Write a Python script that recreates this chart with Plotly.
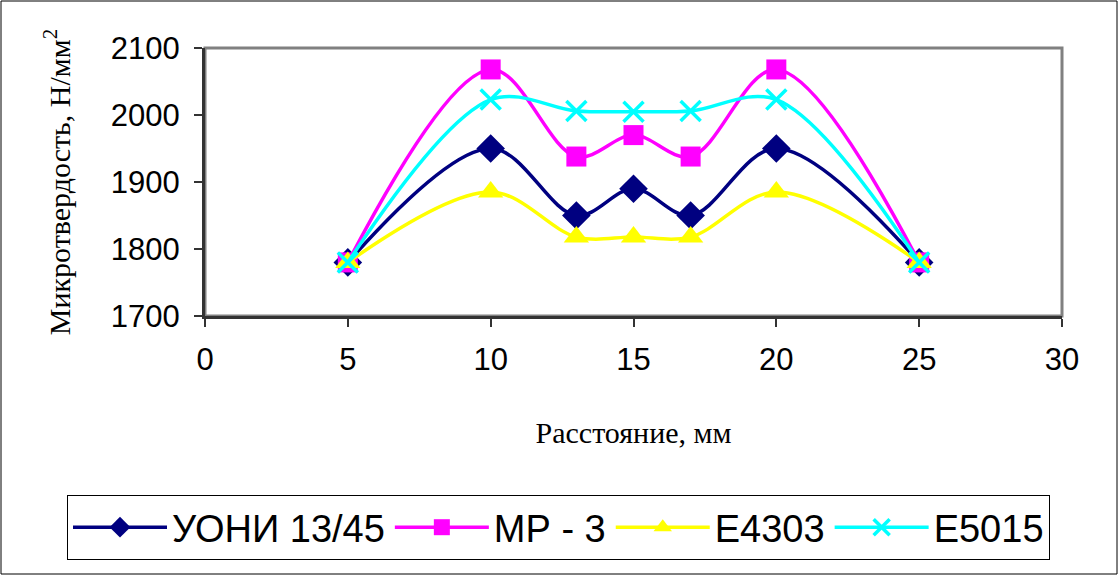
import plotly.graph_objects as go

distance = [5, 10, 13, 15, 17, 20, 25]
series_names = ["УОНИ 13/45", "МР - 3", "Е4303", "Е5015"]
uoni = [1780, 1950, 1850, 1890, 1850, 1950, 1780]
mr3 = [1780, 2068, 1938, 1970, 1938, 2068, 1780]
e4303 = [1780, 1885, 1818, 1818, 1818, 1885, 1780]
e5015 = [1780, 2023, 2006, 2005, 2006, 2023, 1780]
x_ticks = [0, 5, 10, 15, 20, 25, 30]
y_ticks = [1700, 1800, 1900, 2000, 2100]

styles = [
    (uoni, "#000080", "diamond", 22),
    (mr3, "#FF00FF", "square", 20),
    (e4303, "#FFFF00", "triangle-up", 22),
    (e5015, "#00FFFF", "x-thin-open", 20),
]

W, H = 1118, 575
L, R, T, B = 205, 56, 48, 259
pw, ph = W - L - R, H - T - B

fig = go.Figure()
for name, (vals, col, sym, sz) in zip(series_names, styles):
    marker = dict(symbol=sym, size=sz, color=col)
    if sym == "x-thin-open":
        marker["line"] = dict(color=col, width=3.5)
    fig.add_trace(go.Scatter(
        x=distance, y=vals, name=name, mode="lines+markers",
        line=dict(color=col, width=3.5, shape="spline", smoothing=1.0),
        marker=marker,
    ))

def px2paper_x(px):
    return (px - L) / pw

def px2paper_y(py):
    return (H - B - py) / ph

shapes = [
    dict(type="rect", xref="paper", yref="paper", x0=0, x1=1, y0=0, y1=1,
         line=dict(color="#808080", width=3), layer="below"),
    dict(type="rect", xref="paper", yref="paper",
         x0=px2paper_x(1), x1=px2paper_x(W - 1), y0=px2paper_y(H - 1), y1=px2paper_y(1),
         line=dict(color="#000000", width=1)),
]

fig.update_layout(
    width=W, height=H,
    margin=dict(l=L, r=R, t=T, b=B, autoexpand=False),
    paper_bgcolor="white", plot_bgcolor="white",
    font=dict(family="Liberation Sans, Arial", color="black"),
    showlegend=True,
    legend=dict(
        orientation="h", x=px2paper_x(67), xanchor="left",
        y=px2paper_y(495), yanchor="top",
        bordercolor="black", borderwidth=1, bgcolor="white",
        font=dict(size=38, family="Liberation Sans, Arial"),
        itemsizing="trace", traceorder="normal", itemwidth=94,
    ),
    shapes=shapes,
    xaxis=dict(
        range=[0, 30], tickvals=x_ticks, ticktext=[str(v) for v in x_ticks],
        showgrid=False, zeroline=False,
        showline=True, linecolor="#333333", linewidth=3,
        ticks="outside", ticklen=8, tickwidth=2, tickcolor="#333333",
        tickfont=dict(size=31), ticklabelstandoff=6,
        title=dict(text="Расстояние, мм", font=dict(family="Liberation Serif, Times New Roman", size=30),
                   standoff=46),
    ),
    yaxis=dict(
        range=[1700, 2100], tickvals=y_ticks, ticktext=[str(v) for v in y_ticks],
        showgrid=False, zeroline=False,
        showline=True, linecolor="#333333", linewidth=3,
        ticks="outside", ticklen=8, tickwidth=2, tickcolor="#333333",
        tickfont=dict(size=31), ticklabelstandoff=8,
        title=dict(text="Микротвердость, Н/мм<sup>2</sup>",
                   font=dict(family="Liberation Serif, Times New Roman", size=30),
                   standoff=32),
    ),
)

fig.write_html("out.html")
